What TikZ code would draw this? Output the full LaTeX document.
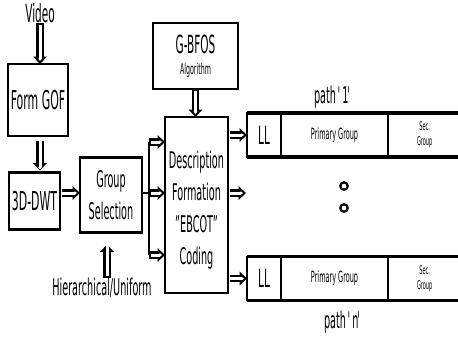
\documentclass[tikz,border=0pt]{standalone}
\usepackage{fontspec}
\setmainfont{DejaVu Sans}[FakeStretch=0.42]
\usetikzlibrary{positioning, arrows.meta}
\tikzset{
    block/.style={rectangle, draw=black, line width=2.5pt, fill=white, align=center, inner sep=0pt, outer sep=0pt},
    txt/.style={inner sep=0pt, align=center},
    cell/.style={rectangle, draw=black, line width=1.5pt, minimum height=44pt, inner sep=0pt, outer sep=0pt, align=center},
    barline/.style={line width=3.5pt},
    link/.style={line width=2.5pt},
    hollow/.style={line width=7.5pt, -{Triangle[length=7.5pt, width=14pt, line width=0pt]},
        postaction={draw=white, line width=3pt, shorten <=2.2pt, shorten >=3.2pt,
        -{Triangle[length=2.2pt, width=4.2pt, line width=0pt]}}},
    dotc/.style={circle, draw=black, line width=2.2pt, minimum size=7.5pt, inner sep=0pt},
    bigtext/.style={font=\fontsize{23}{32}\selectfont},
}
\newcommand{\sq}{\kern-1.5pt\textquotesingle\kern-1.5pt}

\begin{document}
\begin{tikzpicture}[x=1pt, y=-1pt]
    \useasboundingbox (0,0) rectangle (458,341);

    % left column
    \node[txt, font=\fontsize{25}{28}\selectfont] (video) at (40,13) {Video};
    \node[block, minimum width=60pt, minimum height=72pt, font=\fontsize{26}{30}\selectfont] (gof) at (38,100) {Form GOF};
    \node[block, minimum width=51pt, minimum height=57pt, font=\fontsize{26}{30}\selectfont] (dwt) at (34.5,201) {3D-DWT};

    % group selection and coder
    \node[block, bigtext, minimum width=62pt, minimum height=75pt] (gsel) at (111,195) {Group\\Selection};
    \node[txt, bigtext] (hier) at (102,288) {Hierarchical/Uniform};
    \node[block, minimum width=63pt, minimum height=176pt] (desc) at (196.5,205) {};
    \node[txt, bigtext] (desctext) at (196.5,210) {Description\\Formation\\"EBCOT"\\Coding};
    \node[block, minimum width=85pt, minimum height=66pt] (gbfos) at (195.5,56)
        {{\fontsize{25}{28}\selectfont G-BFOS}\\[9pt]{\fontsize{15}{17}\selectfont Algorithm}};

    % branch point
    \coordinate (br) at (149,193);
    \coordinate (brtop) at (149,142);
    \coordinate (brbot) at (149,255);
    \coordinate (mid) at (246,193);

    % paths
    \node[cell, minimum width=34pt, font=\fontsize{25}{28}\selectfont] (llA) at (264,135) {LL};
    \node[cell, minimum width=107pt, right=0pt of llA, font=\fontsize{15.5}{18}\selectfont] (primA) {Primary Group};
    \node[cell, minimum width=90pt, right=0pt of primA, font=\fontsize{12}{15}\selectfont] (secA) {\hspace*{-16pt}Sec.\\\hspace*{-16pt}Group};
    \node[cell, minimum width=34pt, font=\fontsize{25}{28}\selectfont] (llB) at (264,278.5) {LL};
    \node[cell, minimum width=107pt, right=0pt of llB, font=\fontsize{15.5}{18}\selectfont] (primB) {Primary Group};
    \node[cell, minimum width=90pt, right=0pt of primB, font=\fontsize{12}{15}\selectfont] (secB) {\hspace*{-16pt}Sec.\\\hspace*{-16pt}Group};
    \draw[barline] (llA.north west) -- (secA.north east);
    \draw[barline] (llA.south west) -- (secA.south east);
    \draw[barline] (llB.north west) -- (secB.north east);
    \draw[barline] (llB.south west) -- (secB.south east);

    \node[txt, bigtext] (pone) at (333,97) {path \sq1\sq};
    \node[txt, bigtext] (pn) at (343,322) {path \sq n\sq};
    \node[dotc] (dotA) at (344,186) {};
    \node[dotc] (dotB) at (344,208) {};

    % arrows
    \draw[hollow] (video.south) -- (video.south |- gof.north);
    \draw[hollow, shorten <=5pt, shorten >=2pt] (gof.south -| video.south) -- (video.south |- dwt.north);
    \draw[hollow, shorten <=2pt] (dwt.east |- br) -- (gsel.west |- br);
    \draw[link] (gsel.east |- br) -- (br);
    \draw[link] (brtop) -- (brbot);
    \draw[hollow] (brtop) -- (brtop -| desc.west);
    \draw[hollow] (br) -- (br -| desc.west);
    \draw[hollow] (brbot) -- (brbot -| desc.west);
    \draw[hollow] (gbfos.south) -- (gbfos.south |- desc.north);
    \draw[hollow, shorten >=12pt] ([xshift=5pt]hier.north) -- ([xshift=5pt]hier.north |- gsel.south);
    \draw[hollow, shorten <=2pt] (desc.east |- llA.west) -- (llA.west);
    \draw[hollow, shorten <=2pt] (desc.east |- mid) -- (mid);
    \draw[hollow, shorten <=2pt] (desc.east |- llB.west) -- (llB.west);
\end{tikzpicture}
\end{document}
